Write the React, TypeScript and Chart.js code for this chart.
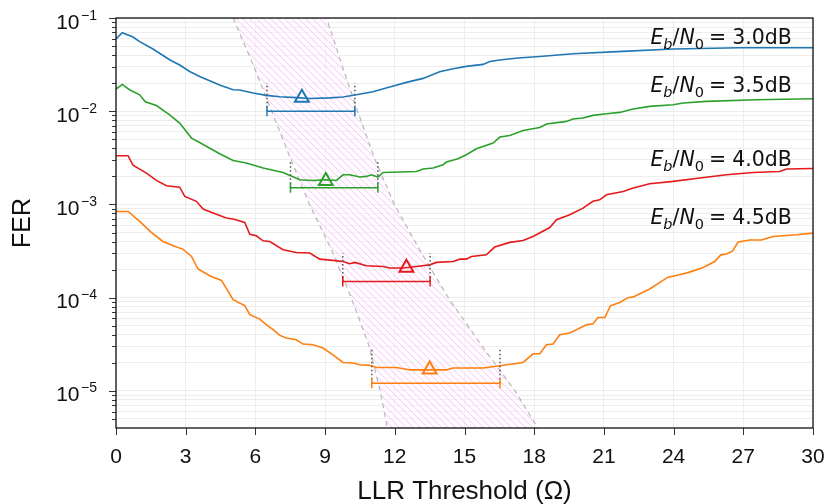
import React, { useEffect, useRef } from 'react';
import { Chart, registerables } from 'chart.js';

Chart.register(...registerables);

// Axis ranges
const THR_MIN = 0;
const THR_MAX = 30;
const FER_MIN = 4e-6;
const FER_MAX = 1e-1;

const xTickValues = [0, 3, 6, 9, 12, 15, 18, 21, 24, 27, 30];
const yDecades = [-5, -4, -3, -2, -1];

// FER vs. LLR threshold, Eb/N0 = 3.0 dB
const thr30 = [0, 0.27, 0.73, 1.02, 1.59, 2.31, 2.74, 3.17, 3.6, 4.46, 5.04, 5.32, 5.9, 6.47, 7.05, 7.76, 8.34, 9.2, 9.77, 10.35, 11.06, 11.78, 12.5, 13.22, 13.93, 14.51, 15.08, 15.8, 16.09, 16.51, 17.3, 18.24, 19.67, 21.8, 23.98, 26.85, 30];
const fer30 = [0.0596, 0.0695, 0.0625, 0.0557, 0.0465, 0.0357, 0.0313, 0.0267, 0.0236, 0.0191, 0.017, 0.0169, 0.0157, 0.0148, 0.0143, 0.014, 0.0137, 0.0139, 0.0142, 0.015, 0.0162, 0.0182, 0.0204, 0.0225, 0.0265, 0.0286, 0.0303, 0.0318, 0.0342, 0.0354, 0.0372, 0.0387, 0.0414, 0.0439, 0.0465, 0.048, 0.048];

// Eb/N0 = 3.5 dB
const thr35 = [0, 0.27, 0.58, 1.02, 1.26, 1.74, 2.31, 2.74, 3.25, 3.6, 4.46, 5.04, 5.61, 6.33, 7.19, 7.91, 8.48, 9.06, 9.49, 9.77, 10.06, 10.49, 10.78, 10.99, 11.28, 11.49, 12.21, 12.93, 13.22, 13.65, 14.08, 14.22, 14.72, 15.08, 15.51, 16.23, 16.52, 16.95, 17.52, 18.24, 18.53, 19.39, 19.67, 20.1, 20.53, 21.11, 21.68, 22.26, 22.97, 23.98, 24.41, 25.41, 27.57, 30];
const fer35 = [0.0173, 0.0194, 0.017, 0.015, 0.0126, 0.0115, 0.00916, 0.00746, 0.00515, 0.00462, 0.0035, 0.00296, 0.00278, 0.00246, 0.0022, 0.00184, 0.00181, 0.00184, 0.00181, 0.00208, 0.00208, 0.00197, 0.002, 0.00208, 0.00197, 0.0022, 0.00223, 0.00226, 0.0024, 0.00246, 0.00267, 0.00285, 0.00309, 0.00341, 0.00396, 0.00456, 0.00528, 0.0055, 0.00622, 0.0067, 0.00729, 0.00778, 0.00824, 0.00845, 0.00902, 0.0094, 0.00971, 0.01057, 0.01127, 0.01175, 0.01225, 0.01274, 0.01327, 0.01361];

// Eb/N0 = 4.0 dB
const thr40 = [0, 0.52, 0.73, 1.31, 1.74, 2.17, 2.74, 2.96, 3.46, 3.75, 4.18, 4.75, 5.04, 5.54, 5.76, 6.04, 6.33, 6.62, 7.19, 7.76, 8.34, 8.77, 9.34, 9.77, 10.06, 10.28, 10.78, 11.49, 11.78, 12.36, 12.93, 13.5, 13.79, 14.51, 14.8, 15.08, 15.3, 15.94, 16.3, 16.95, 17.52, 17.95, 18.67, 18.96, 19.53, 20.1, 20.53, 20.82, 21.11, 21.83, 22.26, 22.97, 23.98, 25.13, 26.28, 27.42, 28.57, 28.86, 30];
const fer40 = [0.00333, 0.00333, 0.00264, 0.00217, 0.00181, 0.00159, 0.00153, 0.00122, 0.00108, 0.000893, 0.000809, 0.000714, 0.000697, 0.000641, 0.000479, 0.000461, 0.000407, 0.000401, 0.000327, 0.000305, 0.000301, 0.000259, 0.000251, 0.000244, 0.000231, 0.000239, 0.00022, 0.000216, 0.000208, 0.000208, 0.000216, 0.000225, 0.000239, 0.000244, 0.000259, 0.000259, 0.000277, 0.000288, 0.000349, 0.000392, 0.000411, 0.000454, 0.000566, 0.000685, 0.000776, 0.000914, 0.00108, 0.00112, 0.00127, 0.00138, 0.0015, 0.00167, 0.00177, 0.00192, 0.00208, 0.0022, 0.00226, 0.0024, 0.00243];

// Eb/N0 = 4.5 dB
const thr45 = [0, 0.52, 1.02, 1.52, 2.02, 2.6, 2.88, 3.25, 3.53, 4.03, 4.54, 5.04, 5.54, 5.76, 6.19, 6.48, 6.76, 7.05, 7.33, 7.76, 8.05, 8.48, 8.91, 9.34, 9.77, 10.2, 10.49, 10.92, 11.21, 12.07, 12.5, 12.64, 14.22, 14.51, 15.8, 16.52, 17.52, 17.95, 18.24, 18.53, 18.81, 19.1, 19.53, 20.25, 20.53, 20.75, 21.04, 21.28, 21.68, 22.04, 22.26, 22.97, 23.76, 24.26, 24.69, 25.27, 25.77, 26.03, 26.28, 26.54, 26.78, 27.28, 27.78, 28.28, 29.29, 30];
const fer45 = [0.000841, 0.000841, 0.000658, 0.000501, 0.000401, 0.000349, 0.000332, 0.000277, 0.000203, 0.000172, 0.000153, 0.0000951, 0.0000824, 0.0000656, 0.0000589, 0.0000512, 0.0000453, 0.0000394, 0.0000369, 0.0000353, 0.0000318, 0.0000313, 0.0000288, 0.0000244, 0.0000202, 0.0000199, 0.0000191, 0.0000188, 0.0000178, 0.0000178, 0.0000171, 0.0000168, 0.0000168, 0.0000176, 0.0000176, 0.0000186, 0.0000202, 0.000025, 0.000025, 0.0000313, 0.0000318, 0.00004, 0.0000417, 0.0000512, 0.0000525, 0.0000612, 0.0000612, 0.0000818, 0.0000887, 0.0001, 0.000102, 0.000124, 0.000166, 0.000176, 0.000188, 0.000211, 0.000244, 0.000288, 0.000294, 0.000318, 0.000395, 0.000415, 0.000415, 0.000454, 0.000473, 0.000493];

const seriesColors = ['#1f77b4', '#2ca02c', '#e41a1c', '#ff7f0e'];
const snrLabels = ['3.0dB', '3.5dB', '4.0dB', '4.5dB'];

// Optimal threshold per Eb/N0 and the near-optimal threshold range
const optThr = [8.0, 9.03, 12.5, 13.5];
const optFer = [0.01396, 0.00178, 0.000209, 0.000017];
const rangeLo = [6.5, 7.51, 9.76, 11.01];
const rangeHi = [10.28, 11.27, 13.52, 16.53];
const rangeFer = [0.01, 0.00151, 0.000149, 0.0000121];
const guideTopFer = [0.0201, 0.00302, 0.000301, 0.0000288];

// Shaded region of recommended thresholds
const bandFer = [0.1, 0.0316, 0.01, 0.00316, 0.001, 0.000316, 0.0001, 0.0000316, 0.00001, 0.000004];
const bandLeftThr = [5.04, 5.9, 6.7, 7.5, 8.33, 9.3, 10.12, 10.87, 11.37, 11.68];
const bandRightThr = [9.06, 9.72, 10.4, 11.12, 11.98, 13.1, 14.3, 15.7, 17.18, 18.15];

// Curve label anchors (right edge threshold, baseline FER)
const labelThr = 29.09;
const labelFer = [0.053, 0.01607, 0.00256, 0.000621];

const pts = (xs: number[], ys: number[]) => xs.map((x, i) => ({ x, y: ys[i] }));

const SANS = '"Liberation Sans", Arial, Helvetica, sans-serif';
const MATH = '"DejaVu Sans", sans-serif';

function makeHatch(ctx: CanvasRenderingContext2D): CanvasPattern | string {
  const s = 7;
  const c = document.createElement('canvas');
  c.width = s;
  c.height = s;
  const g = c.getContext('2d');
  if (!g) return 'rgba(248,200,248,0.4)';
  g.fillStyle = 'rgba(255,248,255,0.4)';
  g.fillRect(0, 0, s, s);
  g.strokeStyle = 'rgba(248,196,248,0.9)';
  g.lineWidth = 1;
  g.beginPath();
  g.moveTo(0, 0);
  g.lineTo(s, s);
  g.moveTo(-1, s - 1);
  g.lineTo(1, s + 1);
  g.moveTo(s - 1, -1);
  g.lineTo(s + 1, 1);
  g.stroke();
  return ctx.createPattern(c, 'repeat') || 'rgba(248,200,248,0.4)';
}

function drawSnrLabel(ctx: CanvasRenderingContext2D, right: number, base: number, value: string) {
  const big = 20.5;
  const small = 14.5;
  const sub = 5;
  const parts = [
    { t: 'E', f: `italic ${big}px ${MATH}`, dy: 0, gap: 0 },
    { t: 'b', f: `italic ${small}px ${MATH}`, dy: sub, gap: 0 },
    { t: '/', f: `${big}px ${MATH}`, dy: 0, gap: 0 },
    { t: 'N', f: `italic ${big}px ${MATH}`, dy: 0, gap: 0 },
    { t: '0', f: `${small}px ${MATH}`, dy: sub, gap: 0 },
    { t: '=', f: `${big}px ${MATH}`, dy: 0, gap: 5 },
    { t: value, f: `${big}px ${MATH}`, dy: 0, gap: 6 },
  ];
  let total = 0;
  const widths = parts.map((p) => {
    ctx.font = p.f;
    const w = ctx.measureText(p.t).width;
    total += w + p.gap;
    return w;
  });
  let cx = right - total;
  ctx.fillStyle = '#111';
  ctx.textAlign = 'left';
  ctx.textBaseline = 'alphabetic';
  parts.forEach((p, i) => {
    cx += p.gap;
    ctx.font = p.f;
    ctx.fillText(p.t, cx, base + p.dy);
    cx += widths[i];
  });
}

const decorPlugin = {
  id: 'decor',
  beforeDatasetsDraw(chart: any) {
    const { ctx, chartArea: a } = chart;
    const x = chart.scales.x;
    const y = chart.scales.y;
    ctx.save();
    ctx.beginPath();
    ctx.rect(a.left, a.top, a.right - a.left, a.bottom - a.top);
    ctx.clip();
    ctx.beginPath();
    bandFer.forEach((f, i) => {
      const px = x.getPixelForValue(bandLeftThr[i]);
      const py = y.getPixelForValue(f);
      if (i === 0) ctx.moveTo(px, py);
      else ctx.lineTo(px, py);
    });
    for (let i = bandFer.length - 1; i >= 0; i--) {
      ctx.lineTo(x.getPixelForValue(bandRightThr[i]), y.getPixelForValue(bandFer[i]));
    }
    ctx.closePath();
    ctx.fillStyle = makeHatch(ctx);
    ctx.fill();
    ctx.setLineDash([5, 4]);
    ctx.strokeStyle = '#b8b8b8';
    ctx.lineWidth = 1.2;
    ctx.stroke();
    ctx.restore();
  },
  afterDraw(chart: any) {
    const { ctx, chartArea: a } = chart;
    const x = chart.scales.x;
    const y = chart.scales.y;
    ctx.save();

    // tick marks
    ctx.strokeStyle = '#333';
    ctx.lineWidth = 1;
    ctx.beginPath();
    xTickValues.forEach((v) => {
      const px = Math.round(x.getPixelForValue(v)) + 0.5;
      ctx.moveTo(px, a.bottom);
      ctx.lineTo(px, a.bottom + 7);
    });
    yDecades.forEach((d) => {
      for (let m = 1; m <= 9; m++) {
        const v = m * Math.pow(10, d);
        if (v < FER_MIN || v > FER_MAX * 1.0001) continue;
        const py = Math.round(y.getPixelForValue(v)) + 0.5;
        ctx.moveTo(a.left - (m === 1 ? 7 : 4), py);
        ctx.lineTo(a.left, py);
      }
    });
    for (let m = 5; m <= 9; m++) {
      const py = Math.round(y.getPixelForValue(m * 1e-6)) + 0.5;
      ctx.moveTo(a.left - 4, py);
      ctx.lineTo(a.left, py);
    }
    ctx.stroke();

    // frame
    ctx.strokeStyle = '#111';
    ctx.lineWidth = 1.3;
    ctx.strokeRect(a.left, a.top, a.right - a.left, a.bottom - a.top);

    // x tick labels
    ctx.fillStyle = '#111';
    ctx.font = `21px ${SANS}`;
    ctx.textAlign = 'center';
    ctx.textBaseline = 'alphabetic';
    xTickValues.forEach((v) => {
      ctx.fillText(String(v), x.getPixelForValue(v), a.bottom + 34.5);
    });

    // y tick labels as powers of ten
    yDecades.forEach((d) => {
      const py = y.getPixelForValue(Math.pow(10, d));
      const exp = '\u2212' + String(-d);
      ctx.font = `14px ${SANS}`;
      const ew = ctx.measureText(exp).width;
      const ex = 97 - ew;
      ctx.textAlign = 'left';
      ctx.fillText(exp, ex, py + 1.5);
      ctx.font = `21px ${SANS}`;
      ctx.textAlign = 'right';
      ctx.fillText('10', ex - 1.5, py + 10.5);
    });

    // axis titles
    ctx.font = `26px ${SANS}`;
    ctx.textAlign = 'center';
    ctx.fillText('LLR Threshold (\u03A9)', (a.left + a.right) / 2, 499);
    ctx.save();
    ctx.translate(30, (a.top + a.bottom) / 2);
    ctx.rotate(-Math.PI / 2);
    ctx.font = `25px ${SANS}`;
    ctx.fillText('FER', 0, 0);
    ctx.restore();

    // curve labels
    snrLabels.forEach((s, i) => {
      drawSnrLabel(ctx, x.getPixelForValue(labelThr), y.getPixelForValue(labelFer[i]), s);
    });

    ctx.restore();
  },
};

export default function App() {
  const canvasRef = useRef<HTMLCanvasElement | null>(null);

  useEffect(() => {
    const canvas = canvasRef.current;
    if (!canvas) return;

    const curves = [
      [thr30, fer30],
      [thr35, fer35],
      [thr40, fer40],
      [thr45, fer45],
    ];

    const markerSets = seriesColors.map((c, i) => ({
      data: [{ x: optThr[i], y: optFer[i] }],
      showLine: false,
      pointStyle: 'triangle',
      pointRadius: 8,
      pointBorderWidth: 2,
      pointBorderColor: c,
      pointBackgroundColor: 'rgba(0,0,0,0)',
      borderColor: c,
    }));

    const rangeSets = seriesColors.map((c, i) => ({
      data: [
        { x: rangeLo[i], y: rangeFer[i] },
        { x: rangeHi[i], y: rangeFer[i] },
      ],
      borderColor: c,
      borderWidth: 1.5,
      pointStyle: 'line',
      rotation: 90,
      pointRadius: 5,
      pointBorderWidth: 1.5,
      pointBorderColor: c,
    }));

    const guideSets: any[] = [];
    seriesColors.forEach((_, i) => {
      [rangeLo[i], rangeHi[i]].forEach((t) => {
        guideSets.push({
          data: [
            { x: t, y: rangeFer[i] },
            { x: t, y: guideTopFer[i] },
          ],
          borderColor: '#555',
          borderWidth: 1.5,
          borderDash: [1.5, 2.5],
          pointRadius: 0,
        });
      });
    });

    const curveSets = curves.map(([t, f], i) => ({
      data: pts(t, f),
      borderColor: seriesColors[i],
      borderWidth: 1.6,
      pointRadius: 0,
      tension: 0,
    }));

    const chart = new Chart(canvas, {
      type: 'line',
      data: { datasets: [...markerSets, ...rangeSets, ...guideSets, ...curveSets] as any },
      options: {
        responsive: false,
        animation: false,
        devicePixelRatio: 1,
        events: [],
        layout: { padding: { top: 18, right: 15, left: 0, bottom: 0 } },
        plugins: { legend: { display: false }, tooltip: { enabled: false } },
        scales: {
          x: {
            type: 'linear',
            min: THR_MIN,
            max: THR_MAX,
            grid: { color: '#ededed', lineWidth: 1, drawTicks: false },
            border: { display: false },
            ticks: { display: false },
            afterBuildTicks: (s: any) => {
              s.ticks = xTickValues.map((v) => ({ value: v }));
            },
            afterFit: (s: any) => {
              s.height = 76;
            },
          },
          y: {
            type: 'logarithmic',
            min: FER_MIN,
            max: FER_MAX,
            grid: { color: '#ededed', lineWidth: 1, drawTicks: false },
            border: { display: false },
            ticks: { display: false },
            afterBuildTicks: (s: any) => {
              const vals: { value: number }[] = [];
              for (let d = -6; d <= -1; d++) {
                for (let m = 1; m <= 9; m++) {
                  const v = m * Math.pow(10, d);
                  if (v > FER_MIN && v <= FER_MAX * 1.0001) vals.push({ value: v });
                }
              }
              s.ticks = vals;
            },
            afterFit: (s: any) => {
              s.width = 116;
            },
          },
        },
      } as any,
      plugins: [decorPlugin],
    });

    return () => chart.destroy();
  }, []);

  return (
    <div style={{ position: 'absolute', left: 0, top: 0, width: 828, height: 504, background: '#fff' }}>
      <canvas ref={canvasRef} width={828} height={504} />
    </div>
  );
}
